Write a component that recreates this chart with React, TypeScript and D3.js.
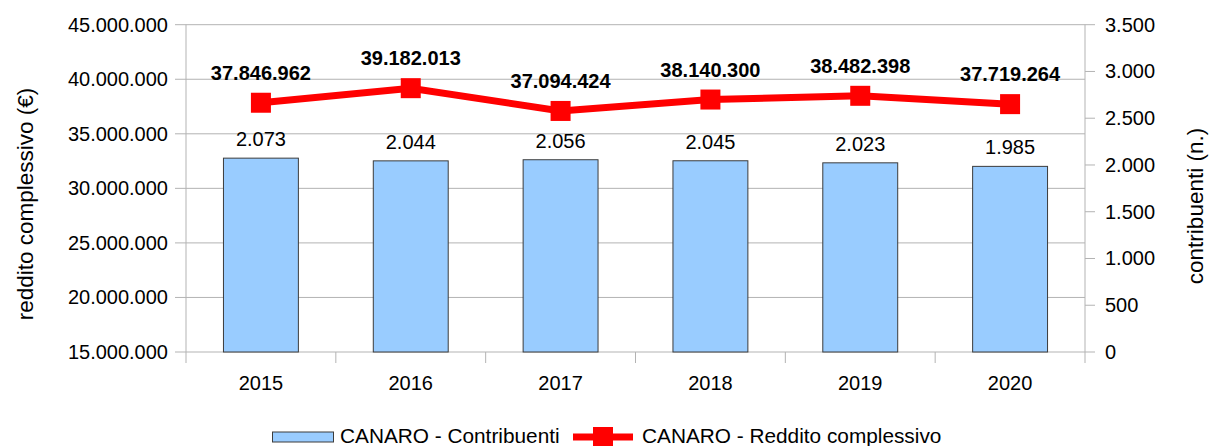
import React, { useEffect, useRef } from "react";
import * as d3 from "d3";

const years = ["2015", "2016", "2017", "2018", "2019", "2020"];
const contribuenti = [2073, 2044, 2056, 2045, 2023, 1985];
const reddito = [37846962, 39182013, 37094424, 38140300, 38482398, 37719264];
const leftTicks = [15000000, 20000000, 25000000, 30000000, 35000000, 40000000, 45000000];
const rightTicks = [0, 500, 1000, 1500, 2000, 2500, 3000, 3500];

const fmt = (v: number) => d3.format(",")(v).replace(/,/g, ".");

export default function App() {
  const ref = useRef<SVGSVGElement>(null);

  useEffect(() => {
    const svg = d3.select(ref.current);
    svg.selectAll("*").remove();

    // plot area
    const left = 186, right = 1085, top = 24.7, bottom = 352;
    const font = "'Liberation Sans', Arial, sans-serif";
    const fs = 20;

    const x = d3.scaleBand().domain(years).range([left, right]);
    const yL = d3.scaleLinear().domain([15000000, 45000000]).range([bottom, top]);
    const yR = d3.scaleLinear().domain([0, 3500]).range([bottom, top]);

    // gridlines + left ticks
    const g = svg.append("g");
    g.selectAll(".grid")
      .data(leftTicks)
      .enter()
      .append("line")
      .attr("x1", left - 11)
      .attr("x2", right)
      .attr("y1", d => yL(d))
      .attr("y2", d => yL(d))
      .attr("stroke", "#b3b3b3")
      .attr("stroke-width", 1);

    g.selectAll(".ltxt")
      .data(leftTicks)
      .enter()
      .append("text")
      .attr("x", left - 18)
      .attr("y", d => yL(d) + 7)
      .attr("text-anchor", "end")
      .attr("font-family", font)
      .attr("font-size", fs)
      .attr("fill", "#000")
      .text(d => fmt(d));

    // right ticks
    g.selectAll(".rtick")
      .data(rightTicks)
      .enter()
      .append("line")
      .attr("x1", right)
      .attr("x2", right + 10)
      .attr("y1", d => yR(d))
      .attr("y2", d => yR(d))
      .attr("stroke", "#b3b3b3");

    g.selectAll(".rtxt")
      .data(rightTicks)
      .enter()
      .append("text")
      .attr("x", right + 20)
      .attr("y", d => yR(d) + 7)
      .attr("font-family", font)
      .attr("font-size", fs)
      .attr("fill", "#000")
      .text(d => fmt(d));

    // axis lines
    g.append("line").attr("x1", left).attr("x2", left).attr("y1", top).attr("y2", bottom).attr("stroke", "#b3b3b3");
    g.append("line").attr("x1", right).attr("x2", right).attr("y1", top).attr("y2", bottom).attr("stroke", "#b3b3b3");

    // category ticks
    const bounds = years.map(d => x(d) as number).concat([right]);
    g.selectAll(".xtick")
      .data(bounds)
      .enter()
      .append("line")
      .attr("x1", d => d)
      .attr("x2", d => d)
      .attr("y1", bottom)
      .attr("y2", bottom + 11)
      .attr("stroke", "#b3b3b3");

    g.selectAll(".xtxt")
      .data(years)
      .enter()
      .append("text")
      .attr("x", d => (x(d) as number) + x.bandwidth() / 2)
      .attr("y", bottom + 38)
      .attr("text-anchor", "middle")
      .attr("font-family", font)
      .attr("font-size", fs)
      .text(d => d);

    // bars
    const bw = x.bandwidth() / 2;
    g.selectAll(".bar")
      .data(years)
      .enter()
      .append("rect")
      .attr("x", d => (x(d) as number) + x.bandwidth() / 2 - bw / 2)
      .attr("y", (d, i) => yR(contribuenti[i]))
      .attr("width", bw)
      .attr("height", (d, i) => bottom - yR(contribuenti[i]))
      .attr("fill", "#99ccff")
      .attr("stroke", "#3c3c3c")
      .attr("stroke-width", 1);

    g.selectAll(".blabel")
      .data(years)
      .enter()
      .append("text")
      .attr("x", d => (x(d) as number) + x.bandwidth() / 2)
      .attr("y", (d, i) => yR(contribuenti[i]) - 12)
      .attr("text-anchor", "middle")
      .attr("font-family", font)
      .attr("font-size", fs)
      .text((d, i) => fmt(contribuenti[i]));

    // line
    const cx = (d: string) => (x(d) as number) + x.bandwidth() / 2;
    const line = d3.line<number>()
      .x((d, i) => cx(years[i]))
      .y(d => yL(d));
    g.append("path")
      .datum(reddito)
      .attr("d", line)
      .attr("fill", "none")
      .attr("stroke", "#ff0000")
      .attr("stroke-width", 7);

    g.selectAll(".mark")
      .data(reddito)
      .enter()
      .append("rect")
      .attr("x", (d, i) => cx(years[i]) - 10)
      .attr("y", d => yL(d) - 10)
      .attr("width", 20)
      .attr("height", 20)
      .attr("fill", "#ff0000");

    g.selectAll(".llabel")
      .data(reddito)
      .enter()
      .append("text")
      .attr("x", (d, i) => cx(years[i]))
      .attr("y", d => yL(d) - 23)
      .attr("text-anchor", "middle")
      .attr("font-family", font)
      .attr("font-size", fs)
      .attr("font-weight", "bold")
      .text(d => fmt(d));

    // axis titles
    g.append("text")
      .attr("transform", `translate(33,204) rotate(-90)`)
      .attr("text-anchor", "middle")
      .attr("font-family", font)
      .attr("font-size", 22.5)
      .text("reddito complessivo (€)");

    g.append("text")
      .attr("transform", `translate(1203,206) rotate(-90)`)
      .attr("text-anchor", "middle")
      .attr("font-family", font)
      .attr("font-size", 22.5)
      .text("contribuenti (n.)");

    // legend
    const ly = 437;
    g.append("rect")
      .attr("x", 272.5)
      .attr("y", ly - 5)
      .attr("width", 61)
      .attr("height", 10)
      .attr("fill", "#99ccff")
      .attr("stroke", "#3c3c3c");
    g.append("text")
      .attr("x", 340)
      .attr("y", ly + 6)
      .attr("font-family", font)
      .attr("font-size", 20.8)
      .text("CANARO - Contribuenti");
    g.append("line")
      .attr("x1", 573)
      .attr("x2", 633)
      .attr("y1", ly)
      .attr("y2", ly)
      .attr("stroke", "#ff0000")
      .attr("stroke-width", 7);
    g.append("rect")
      .attr("x", 593)
      .attr("y", ly - 10)
      .attr("width", 20)
      .attr("height", 20)
      .attr("fill", "#ff0000");
    g.append("text")
      .attr("x", 642)
      .attr("y", ly + 6)
      .attr("font-family", font)
      .attr("font-size", 20.8)
      .text("CANARO - Reddito complessivo");
  }, []);

  return (
    <svg
      ref={ref}
      width={1209}
      height={446}
      style={{ position: "absolute", left: 0, top: 0, background: "#fff" }}
    />
  );
}
